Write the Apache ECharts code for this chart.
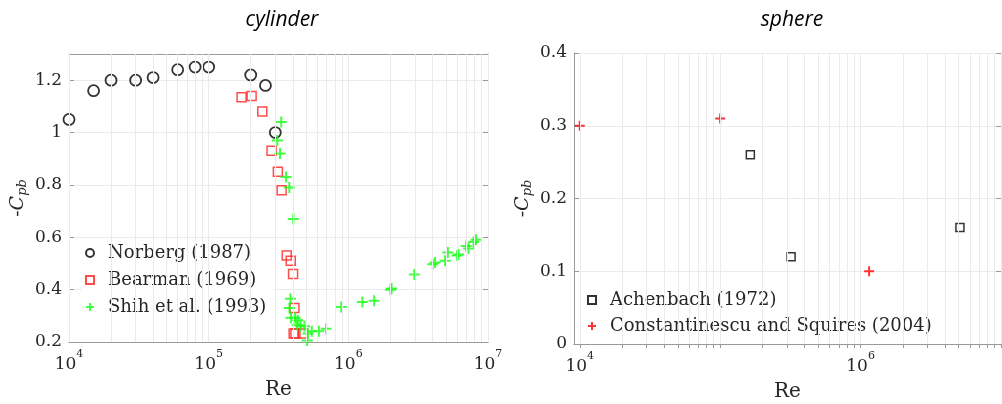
<!DOCTYPE html>
<html>
<head>
<meta charset="utf-8">
<script src="https://cdn.jsdelivr.net/npm/echarts@6/dist/echarts.min.js"></script>
<style>
  html, body { margin: 0; padding: 0; background: #fff; }
  #main { width: 1002px; height: 404px; }
</style>
</head>
<body>
<div id="main"></div>
<script>
// cylinder data
var norbergRe = [1e4, 1.5e4, 2e4, 3e4, 4e4, 6e4, 8e4, 1e5, 2e5, 2.55e5, 3e5];
var norbergCpb = [1.05, 1.16, 1.2, 1.2, 1.21, 1.24, 1.25, 1.25, 1.22, 1.18, 1.0];

var bearmanRe = [1.72e5, 2.03e5, 2.42e5, 2.82e5, 3.13e5, 3.33e5, 3.62e5, 3.87e5, 4.02e5, 4.11e5, 4.06e5, 4.18e5, 4.72e5];
var bearmanCpb = [1.135, 1.14, 1.08, 0.93, 0.85, 0.78, 0.53, 0.51, 0.46, 0.33, 0.232, 0.232, 0.232];

var shihRe = [3.31e5, 3.10e5, 3.24e5, 3.58e5, 3.78e5, 4.04e5, 3.85e5, 3.79e5, 3.89e5, 4.16e5, 4.35e5, 4.30e5,
  4.54e5, 4.85e5, 5.13e5, 5.07e5, 5.47e5, 6.15e5, 6.94e5, 8.9e5, 1.26e6, 1.53e6, 2.0e6, 2.04e6, 2.97e6,
  4.02e6, 4.18e6, 4.93e6, 5.16e6, 6.01e6, 6.15e6, 6.98e6, 7.26e6, 7.89e6, 8.2e6];
var shihCpb = [1.04, 0.97, 0.92, 0.83, 0.79, 0.67, 0.365, 0.33, 0.293, 0.293, 0.283, 0.266,
  0.26, 0.26, 0.232, 0.206, 0.241, 0.241, 0.251, 0.334, 0.353, 0.358, 0.40, 0.404, 0.458,
  0.497, 0.504, 0.51, 0.542, 0.53, 0.534, 0.567, 0.557, 0.582, 0.591];

// sphere data
var achenbachRe = [1.64e5, 3.2e5, 1.15e6, 5.1e6];
var achenbachCpb = [0.26, 0.12, 0.05, 0.16];
var constRe = [1e4, 1e5, 1.15e6];
var constCpb = [0.30, 0.31, 0.10];

// tick labels
var cylXTicks = [1e4, 1e5, 1e6, 1e7];
var sphXTicks = [1e4, 1e6];

var SERIF = "'DejaVu Serif', 'Liberation Serif', serif";
var TXT = '#262626';
var AX = '#9a9a9a';
var GRIDC = '#ebebeb';

function pairs(xs, ys) {
  return xs.map(function (x, i) { return [x, ys[i]]; });
}

// 1..9 x 10^n positions inside [lo, hi]
function logSteps(lo, hi) {
  var out = [];
  for (var p = 3; p <= 7; p++) {
    for (var k = 1; k <= 9; k++) {
      var v = k * Math.pow(10, p);
      if (v >= lo && v <= hi) out.push(v);
    }
  }
  return out;
}

function expLabel(v) {
  return '{b|10}{s|' + Math.round(Math.log10(v)) + '}';
}

var richExp = {
  b: { fontFamily: SERIF, fontSize: 17, color: TXT, lineHeight: 24, verticalAlign: 'bottom' },
  s: { fontFamily: SERIF, fontSize: 11, color: TXT, lineHeight: 24, verticalAlign: 'top' }
};

var yNameRich = {
  a: { fontFamily: SERIF, fontSize: 19, color: TXT },
  c: { fontFamily: SERIF, fontSize: 19, fontStyle: 'italic', color: TXT },
  s: { fontFamily: SERIF, fontSize: 13, fontStyle: 'italic', color: TXT, verticalAlign: 'bottom', padding: [8, 0, 0, 0] }
};

var PLUS = 'path://M0,5L10,5M5,0L5,10';

function xAxisLog(grid, min, max, ticks, pos, show) {
  return {
    type: 'log', logBase: 10, gridIndex: grid, min: min, max: max, position: pos,
    axisLine: { show: true, lineStyle: { color: AX, width: 1 } },
    axisTick: { show: true, inside: true, length: 4, customValues: logSteps(min, max), lineStyle: { color: AX } },
    axisLabel: show ? {
      customValues: ticks, formatter: expLabel, rich: richExp, margin: 7
    } : { show: false },
    splitLine: { show: false },
    name: show ? 'Re' : '', nameLocation: 'middle', nameGap: 38,
    nameTextStyle: { fontFamily: SERIF, fontSize: 20, color: TXT }
  };
}

function yAxisLin(grid, min, max, step, pos, show) {
  return {
    type: 'value', gridIndex: grid, min: min, max: max, interval: step, position: pos,
    axisLine: { show: true, lineStyle: { color: AX, width: 1 } },
    axisTick: { show: true, inside: true, length: 5, lineStyle: { color: AX } },
    axisLabel: show ? {
      fontFamily: SERIF, fontSize: 17, color: TXT, margin: 7, showMaxLabel: max === 0.4,
      formatter: function (v) { return String(Math.round(v * 10) / 10); }
    } : { show: false },
    splitLine: { show: show, lineStyle: { color: GRIDC, width: 1 } },
    name: show ? '{a|-}{c|C}{s|pb}' : '', nameLocation: 'middle', nameRotate: 90, nameGap: 40,
    nameTextStyle: { rich: yNameRich }
  };
}

function gridSeries(xi, yi, lo, hi) {
  return {
    type: 'scatter', xAxisIndex: xi, yAxisIndex: yi, data: [], z: 0, silent: true,
    markLine: {
      silent: true, symbol: 'none', label: { show: false },
      lineStyle: { color: GRIDC, width: 1, type: 'solid' },
      data: logSteps(lo, hi).map(function (v) { return { xAxis: v }; }), animation: false
    }
  };
}

var legendText = { fontFamily: SERIF, fontSize: 18, color: TXT, lineHeight: 20, padding: [0, 0, 0, 9] };

var chart = echarts.init(document.getElementById('main'));
chart.setOption({
  animation: false,
  backgroundColor: '#fff',
  title: [
    { text: 'cylinder', left: 277, top: 5, textAlign: 'center',
      textStyle: { fontFamily: "'Open Sans', Lato, sans-serif", fontStyle: 'italic', fontWeight: 'normal', fontSize: 21, color: '#000' } },
    { text: 'sphere', left: 787, top: 5, textAlign: 'center',
      textStyle: { fontFamily: "'Open Sans', Lato, sans-serif", fontStyle: 'italic', fontWeight: 'normal', fontSize: 21, color: '#000' } }
  ],
  grid: [
    { left: 69, top: 54, width: 419, height: 288, outerBoundsMode: 'none' },
    { left: 574, top: 53, width: 427, height: 291, outerBoundsMode: 'none' }
  ],
  xAxis: [
    xAxisLog(0, 1e4, 1e7, cylXTicks, 'bottom', true),
    xAxisLog(0, 1e4, 1e7, cylXTicks, 'top', false),
    xAxisLog(1, 9100, 1e7, sphXTicks, 'bottom', true),
    xAxisLog(1, 9100, 1e7, sphXTicks, 'top', false)
  ],
  yAxis: [
    yAxisLin(0, 0.2, 1.3, 0.2, 'left', true),
    yAxisLin(0, 0.2, 1.3, 0.2, 'right', false),
    yAxisLin(1, 0, 0.4, 0.1, 'left', true),
    yAxisLin(1, 0, 0.4, 0.1, 'right', false)
  ],
  legend: [
    {
      data: ['Norberg (1987)', 'Bearman (1969)', 'Shih et al. (1993)'],
      orient: 'vertical', left: 82, top: 240, itemGap: 7, itemWidth: 8, itemHeight: 8,
      backgroundColor: '#fff', padding: [3, 8, 3, 3],
      textStyle: legendText
    },
    {
      data: ['Achenbach (1972)', 'Constantinescu and Squires (2004)'],
      orient: 'vertical', left: 584, top: 288, itemGap: 6, itemWidth: 8, itemHeight: 8,
      backgroundColor: '#fff', padding: [2, 8, 0, 3],
      textStyle: legendText
    }
  ],
  series: [
    gridSeries(0, 0, 1e4, 1e7),
    gridSeries(2, 2, 9100, 1e7),
    {
      name: 'Norberg (1987)', type: 'scatter', xAxisIndex: 0, yAxisIndex: 0,
      data: pairs(norbergRe, norbergCpb), symbol: 'circle', symbolSize: 11,
      itemStyle: { color: 'rgba(0,0,0,0)', borderColor: '#000', borderWidth: 1.8 }
    },
    {
      name: 'Bearman (1969)', type: 'scatter', xAxisIndex: 0, yAxisIndex: 0,
      data: pairs(bearmanRe, bearmanCpb), symbol: 'rect', symbolSize: 9,
      itemStyle: { color: 'rgba(0,0,0,0)', borderColor: '#ff2020', borderWidth: 1.5 }
    },
    {
      name: 'Shih et al. (1993)', type: 'scatter', xAxisIndex: 0, yAxisIndex: 0,
      data: pairs(shihRe, shihCpb), symbol: PLUS, symbolSize: 11,
      itemStyle: { color: 'rgba(0,0,0,0)', borderColor: '#11ff11', borderWidth: 2 }
    },
    {
      name: 'Achenbach (1972)', type: 'scatter', xAxisIndex: 2, yAxisIndex: 2,
      data: pairs(achenbachRe, achenbachCpb), symbol: 'rect', symbolSize: 8,
      itemStyle: { color: 'rgba(0,0,0,0)', borderColor: '#000', borderWidth: 1.5 }
    },
    {
      name: 'Constantinescu and Squires (2004)', type: 'scatter', xAxisIndex: 2, yAxisIndex: 2,
      data: pairs(constRe, constCpb), symbol: PLUS, symbolSize: 10,
      itemStyle: { color: 'rgba(0,0,0,0)', borderColor: '#ff0000', borderWidth: 2 }
    }
  ]
});
</script>
</body>
</html>
